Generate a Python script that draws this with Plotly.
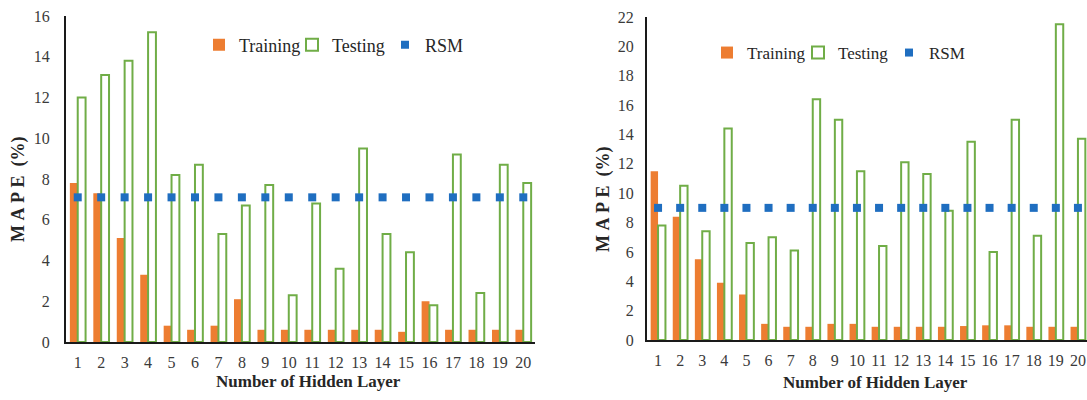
import plotly.graph_objects as go

layers = list(range(1, 21))

# Left chart
train_left = [7.8, 7.3, 5.1, 3.3, 0.8, 0.6, 0.8, 2.1, 0.6, 0.6,
              0.6, 0.6, 0.6, 0.6, 0.5, 2.0, 0.6, 0.6, 0.6, 0.6]
test_left = [12.0, 13.1, 13.8, 15.2, 8.2, 8.7, 5.3, 6.7, 7.7, 2.3,
             6.8, 3.6, 9.5, 5.3, 4.4, 1.8, 9.2, 2.4, 8.7, 7.8]
rsm_left = [7.1] * 20

# Right chart
train_right = [11.5, 8.4, 5.5, 3.9, 3.1, 1.1, 0.9, 0.9, 1.1, 1.1,
               0.9, 0.9, 0.9, 0.9, 0.95, 1.0, 1.0, 0.9, 0.9, 0.9]
test_right = [7.8, 10.5, 7.4, 14.4, 6.6, 7.0, 6.1, 16.4, 15.0, 11.5,
              6.4, 12.1, 11.3, 8.8, 13.5, 6.0, 15.0, 7.1, 21.5, 13.7]
rsm_right = [9.0] * 20

ORANGE = "#ED7D31"
GREEN = "#70AD47"
BLUE = "#1F6EC0"
FONT = "Liberation Serif, Times New Roman, DejaVu Serif, serif"
TXT = "#262626"
TICK = "#3a3a3a"

W, H = 1087, 400

fig = go.Figure()

def add_set(train, test, rsm, xa, ya, legend):
    fig.add_trace(go.Bar(x=layers, y=train, name="Training", marker=dict(color=ORANGE, line=dict(width=0)),
                         xaxis=xa, yaxis=ya, legend=legend))
    fig.add_trace(go.Bar(x=layers, y=test, name="Testing",
                         marker=dict(color="white", line=dict(color=GREEN, width=2)),
                         xaxis=xa, yaxis=ya, legend=legend))
    fig.add_trace(go.Scatter(x=layers, y=rsm, name="RSM", mode="markers",
                             marker=dict(symbol="square", size=8, color=BLUE),
                             xaxis=xa, yaxis=ya, legend=legend))

add_set(train_left, test_left, rsm_left, "x", "y", "legend")
add_set(train_right, test_right, rsm_right, "x2", "y2", "legend2")

axis_common = dict(showgrid=False, zeroline=False, showline=True, linecolor="#1a1a1a", linewidth=2,
                   ticks="", tickfont=dict(family=FONT, size=16, color=TICK), automargin=False)

fig.update_layout(
    width=W, height=H,
    margin=dict(l=0, r=0, t=0, b=0, autoexpand=False),
    paper_bgcolor="white", plot_bgcolor="white",
    barmode="group", bargap=0.33, bargroupgap=0.0,
    font=dict(family=FONT, color=TXT),
    xaxis=dict(domain=[66 / W, 535 / W], range=[0.5, 20.5], tickvals=layers,
               ticklabelstandoff=5, **axis_common),
    yaxis=dict(domain=[58 / H, 384 / H], range=[0, 16], tickvals=list(range(0, 17, 2)),
               ticklabelstandoff=11, **axis_common),
    xaxis2=dict(domain=[647 / W, 1.0], range=[0.5, 20.41], tickvals=layers,
                ticklabelstandoff=5, anchor="y2", **axis_common),
    yaxis2=dict(domain=[60 / H, 383 / H], range=[0, 22], tickvals=list(range(0, 23, 2)),
                ticklabelstandoff=8, anchor="x2", **axis_common),
    legend=dict(orientation="h", x=199 / W, y=1 - 45 / H, xanchor="left", yanchor="middle",
                font=dict(family=FONT, size=18, color=TXT), itemwidth=30,
                entrywidth=48, entrywidthmode="pixels", bgcolor="rgba(0,0,0,0)"),
    legend2=dict(orientation="h", x=707 / W, y=1 - 53 / H, xanchor="left", yanchor="middle",
                 font=dict(family=FONT, size=17, color=TXT), itemwidth=30,
                 entrywidth=46, entrywidthmode="pixels", bgcolor="rgba(0,0,0,0)"),
)

title_font = dict(family=FONT, size=17, color=TXT)
annos = [
    dict(text="<b>Number of Hidden Layer</b>", x=308 / W, y=1 - 381 / H, font=title_font),
    dict(text="<b>Number of Hidden Layer</b>", x=875 / W, y=1 - 382 / H, font=title_font),
    dict(text="<b>M\u00a0A\u00a0P\u00a0E\u00a0\u00a0(%)</b>", x=18 / W, y=1 - 190 / H, textangle=-90,
         font=dict(family=FONT, size=18, color=TXT)),
    dict(text="<b>M\u00a0A\u00a0P\u00a0E\u00a0\u00a0(%)</b>", x=603 / W, y=1 - 200 / H, textangle=-90,
         font=dict(family=FONT, size=18, color=TXT)),
]
for a in annos:
    fig.add_annotation(xref="paper", yref="paper", showarrow=False, xanchor="center", yanchor="middle", **a)

fig.write_html("out.html", config={"displayModeBar": False},
               post_script="document.body.style.margin='0';document.body.style.padding='0';document.body.style.overflow='hidden';")
